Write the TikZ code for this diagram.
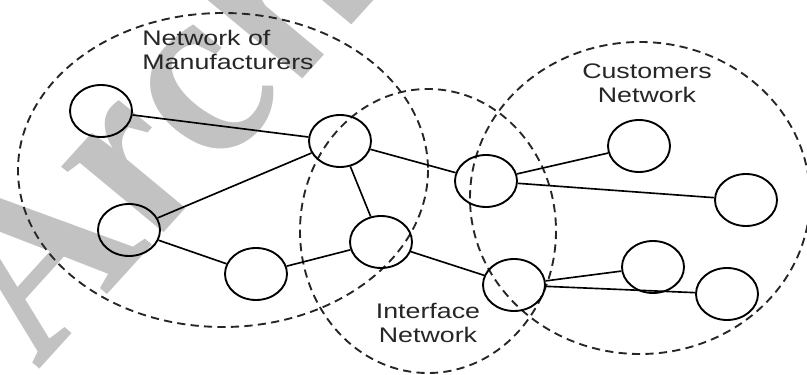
\documentclass[tikz,border=0pt]{standalone}
\usepackage{fontspec}
\setmainfont{Liberation Sans}
\newfontfamily\stampfont{Liberation Serif}
\usetikzlibrary{shapes.geometric}
\tikzset{
	peer/.style={draw, ellipse, line width=1.6pt, inner sep=0pt,
			minimum width=1.86cm, minimum height=1.56cm},
	link/.style={line width=1.4pt},
	region/.style={draw=black!85, line width=1.6pt, dash pattern=on 7pt off 4.5pt},
	tag/.style={font=\fontsize{18}{20.5}\selectfont, text=black!85, xscale=1.27, transform shape, inner sep=0pt}
}

\begin{document}
\begin{tikzpicture}[x=0.03cm, y=-0.03cm]
        \useasboundingbox (0,0) rectangle (807,375);
        % grey stamp in the background
        \node[xscale=1.25, rotate=54, anchor=base west, inner sep=0pt, text=black!24,
                font=\stampfont\bfseries\itshape\fontsize{195}{195}\selectfont] (stamp) at (48,360) {Archive};
        % the three overlapping networks
        \draw[region] (223,170) ellipse [x radius=205, y radius=157];
        \draw[region] (428,231) ellipse [x radius=128, y radius=142];
        \draw[region] (640,198) ellipse [x radius=170, y radius=156];
        \node[tag, align=left] (manu_lbl) at (228,50) {Network of\\Manufacturers};
        \node[tag, align=center] (cust_lbl) at (647,83) {Customers\\Network};
        \node[tag, align=center] (intf_lbl) at (428,323) {Interface\\Network};
        % members
        \node[peer] (m_1) at (101,111) {};
        \node[peer] (m_2) at (129,230) {};
        \node[peer] (m_3) at (256,274) {};
        \node[peer] (i_1) at (340,141) {};
        \node[peer] (i_2) at (381,242) {};
        \node[peer] (i_3) at (486,181) {};
        \node[peer] (i_4) at (514,285) {};
        \node[peer] (c_1) at (639,146) {};
        \node[peer] (c_2) at (746,200) {};
        \node[peer] (c_3) at (653,267) {};
        \node[peer] (c_4) at (727,294) {};
        % links
        \draw[link] (m_1) -- (i_1);
        \draw[link] (m_2) -- (i_1);
        \draw[link] (m_2) -- (m_3);
        \draw[link] (m_3) -- (i_2);
        \draw[link] (i_1) -- (i_2);
        \draw[link] (i_1) -- (i_3);
        \draw[link] (i_2) -- (i_4);
        \draw[link] (i_3) -- (c_1);
        \draw[link] (i_3) -- (c_2);
        \draw[link] (i_4) -- (c_3);
        \draw[link] (i_4) -- (c_4);
    \end{tikzpicture}
\end{document}
